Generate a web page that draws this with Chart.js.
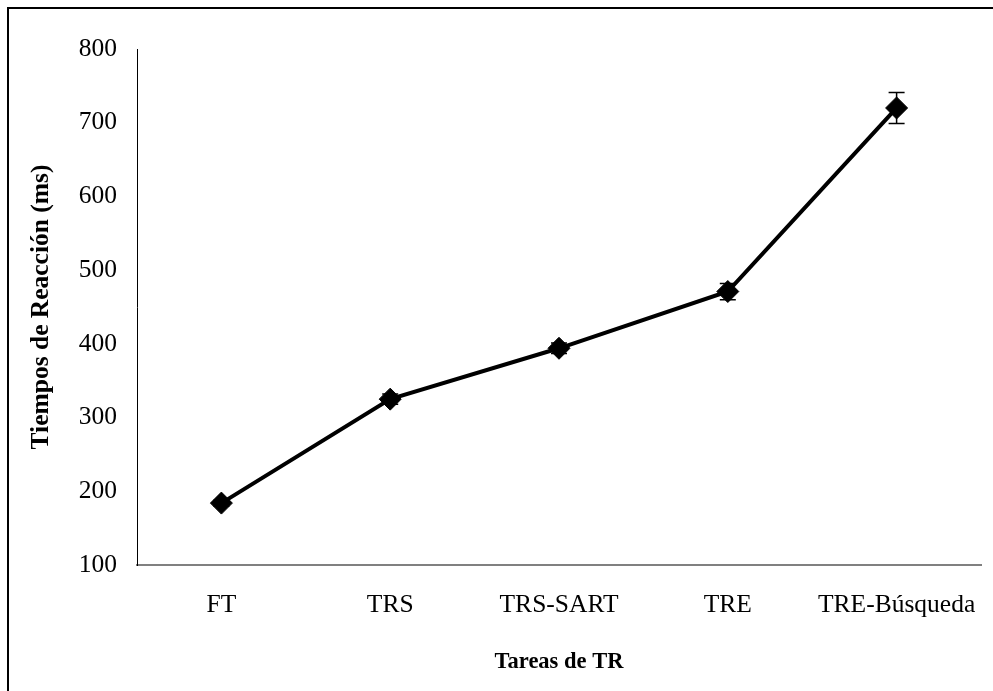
<!DOCTYPE html>
<html>
<head>
<meta charset="utf-8">
<script src="https://cdn.jsdelivr.net/npm/chart.js@4"></script>
<style>
  html, body { margin: 0; padding: 0; background: #fff; overflow: hidden; }
  #frame { position: absolute; left: 7px; top: 7px; width: 1100px; height: 800px; border: 2px solid #000; box-sizing: border-box; }
  #wrap { position: absolute; left: 0; top: 0; width: 993px; height: 691px; }
</style>
</head>
<body>
<div id="frame"></div>
<div id="wrap"><canvas id="chart" width="993" height="691"></canvas></div>
<script>
const categories = ["FT", "TRS", "TRS-SART", "TRE", "TRE-Búsqueda"];
const meanRT = [184, 325, 394, 471, 720];
const errRT = [4, 7, 7, 11, 21];
const yTicks = [100, 200, 300, 400, 500, 600, 700, 800];

const serif = "'Liberation Serif', 'Times New Roman', serif";

// little plugin for the error bars, drawn through the y scale
const errorBars = {
    id: "errorBars",
    afterDatasetsDraw(chart) {
        const ctx = chart.ctx;
        const yScale = chart.scales.y;
        const meta = chart.getDatasetMeta(0);
        ctx.save();
        ctx.strokeStyle = "#000";
        ctx.lineWidth = 1.5;
        meta.data.forEach(function(pt, i) {
            const top = yScale.getPixelForValue(meanRT[i] + errRT[i]);
            const bot = yScale.getPixelForValue(meanRT[i] - errRT[i]);
            const x = pt.x;
            ctx.beginPath();
            ctx.moveTo(x, top); ctx.lineTo(x, bot);
            ctx.moveTo(x - 8, top); ctx.lineTo(x + 8, top);
            ctx.moveTo(x - 8, bot); ctx.lineTo(x + 8, bot);
            ctx.stroke();
        });
        ctx.restore();
    }
};

new Chart(document.getElementById("chart"), {
    type: "line",
    data: {
        labels: categories,
        datasets: [{
            data: meanRT,
            borderColor: "#000",
            backgroundColor: "#000",
            borderWidth: 4,
            tension: 0,
            pointStyle: "rectRot",
            pointRadius: 11,
            pointBorderWidth: 1,
            pointBackgroundColor: "#000",
            pointBorderColor: "#000"
        }]
    },
    options: {
        responsive: false,
        devicePixelRatio: 1,
        animation: false,
        layout: { padding: { top: 49, right: 9, bottom: 0, left: 0 } },
        plugins: {
            legend: { display: false },
            tooltip: { enabled: false }
        },
        scales: {
            x: {
                offset: true,
                grid: { display: false, drawTicks: false },
                border: { display: true, color: "#808080", width: 2 },
                ticks: { color: "#000", padding: 25, font: { family: serif, size: 25.5 }, maxRotation: 0 },
                title: {
                    display: true,
                    text: "Tareas de TR",
                    color: "#000",
                    font: { family: serif, size: 22.5, weight: "bold" },
                    padding: { top: 15, bottom: 15 }
                },
                afterFit: function(s) {
                    s.height = 126;
                    // keep the plot running to the right edge like the original
                    s.paddingLeft = 0;
                    s.paddingRight = 0;
                }
            },
            y: {
                min: 100,
                max: 800,
                grid: { display: false, drawTicks: false },
                border: { display: true, color: "#000", width: 1 },
                afterBuildTicks: function(s) { s.ticks = yTicks.map(v => ({ value: v })); },
                ticks: { color: "#000", padding: 20, font: { family: serif, size: 25.5 } },
                title: {
                    display: true,
                    text: "Tiempos de Reacción (ms)",
                    color: "#000",
                    font: { family: serif, size: 25.5, weight: "bold" },
                    padding: { top: 26, bottom: 26 }
                },
                afterFit: function(s) { s.width = 137; }
            }
        }
    },
    plugins: [errorBars]
});
</script>
</body>
</html>
